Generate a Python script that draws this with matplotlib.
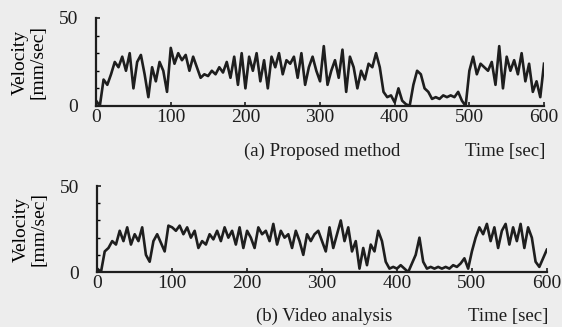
import matplotlib.pyplot as plt
from matplotlib.ticker import MultipleLocator

# ── Données (pas de 5 s) ─────────────────────────────────────────────────────
temps = list(range(0, 601, 5))

vitesse_proposee = [
    3, 0, 15, 12, 18, 25, 22, 28, 20, 30, 10, 25, 29, 18, 5, 22, 14, 25, 20, 8,
    33, 24, 30, 26, 29, 20, 28, 22, 16, 18, 17, 20, 18, 22, 19, 25, 16, 28, 12, 30,
    10, 28, 20, 30, 14, 26, 10, 28, 22, 30, 18, 26, 24, 28, 16, 30, 12, 22, 28, 20,
    14, 34, 12, 20, 26, 16, 32, 8, 28, 22, 10, 20, 15, 24, 22, 30, 22, 8, 5, 6,
    2, 10, 3, 1, 0, 12, 20, 18, 10, 8, 4, 5, 4, 6, 5, 6, 5, 8, 3, 0,
    20, 28, 18, 24, 22, 20, 25, 12, 34, 10, 28, 20, 26, 18, 30, 14, 24, 8, 14, 5,
    24,
]

vitesse_video = [
    2, 0, 12, 14, 18, 16, 24, 18, 26, 16, 22, 18, 26, 10, 6, 18, 22, 17, 12, 27,
    26, 24, 27, 22, 26, 20, 24, 14, 18, 16, 22, 19, 24, 18, 26, 20, 24, 16, 26, 14,
    24, 20, 14, 26, 22, 24, 18, 28, 16, 24, 20, 22, 14, 24, 18, 10, 22, 18, 22, 24,
    18, 12, 26, 14, 22, 30, 18, 26, 12, 18, 2, 14, 4, 16, 12, 24, 18, 6, 2, 3,
    2, 4, 2, 0, 5, 10, 20, 6, 2, 3, 2, 3, 2, 3, 2, 4, 3, 5, 8, 2,
    12, 20, 26, 22, 28, 18, 26, 14, 24, 28, 16, 26, 18, 28, 14, 26, 20, 6, 3, 8,
    13,
]

PANNEAUX = [
    (vitesse_proposee, "(a) Proposed method", [0.171, 0.676, 0.797, 0.269]),
    (vitesse_video,    "(b) Video analysis",  [0.173, 0.168, 0.800, 0.263]),
]

plt.rcParams["font.family"] = ["Liberation Serif", "DejaVu Serif"]

fig = plt.figure(figsize=(5.62, 3.27), dpi=100)
fig.patch.set_facecolor("#ededed")

for serie, legende, rect in PANNEAUX:
    ax = fig.add_axes(rect)
    ax.set_facecolor("none")
    ax.plot(temps, serie, color="#1e1e1e", linewidth=1.9)

    ax.set_xlim(0, 600)
    ax.set_ylim(0, 50)
    ax.set_xticks(range(0, 601, 100))
    ax.set_yticks([0, 50])
    ax.yaxis.set_minor_locator(MultipleLocator(10))
    ax.tick_params(direction="in", length=3, width=1.2, labelsize=14, colors="#1e1e1e")
    ax.tick_params(which="minor", direction="in", length=2, width=1.0)
    ax.tick_params(axis="x", pad=2)
    ax.tick_params(axis="y", pad=13)

    for cote in ("top", "right"):
        ax.spines[cote].set_visible(False)
    for cote in ("left", "bottom"):
        ax.spines[cote].set_linewidth(1.6)
        ax.spines[cote].set_color("#1e1e1e")

    ax.set_ylabel("Velocity\n[mm/sec]", fontsize=14, labelpad=9, linespacing=1.05)
    ax.text(0.505, -0.52, legende, transform=ax.transAxes, ha="center",
            va="center", fontsize=13.5, color="#1e1e1e")
    ax.text(0.913, -0.52, "Time [sec]", transform=ax.transAxes, ha="center",
            va="center", fontsize=13.5, color="#1e1e1e")

fig.savefig("out.png", dpi=100, facecolor=fig.get_facecolor())
